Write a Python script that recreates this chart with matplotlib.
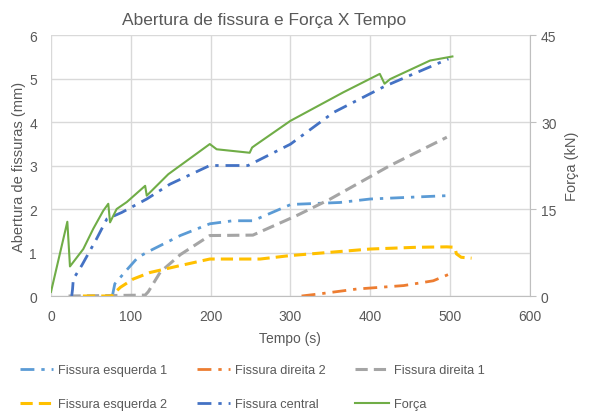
import matplotlib.pyplot as plt
import numpy as np

plt.rcParams['font.family'] = ['Liberation Sans', 'DejaVu Sans']
TXT = '#595959'
GRID = '#D9D9D9'

# Crack openings (mm) vs time (s)
t_esq1 = [77, 78, 80, 95, 109, 124, 162, 199, 228, 253, 300, 308, 362, 400, 500]
v_esq1 = [0, 0.10, 0.28, 0.60, 0.89, 1.04, 1.39, 1.66, 1.73, 1.73, 2.10, 2.11, 2.15, 2.23, 2.31]

t_dir2 = [314, 337, 383, 442, 479, 500]
v_dir2 = [0.0, 0.05, 0.16, 0.24, 0.35, 0.51]

t_dir1 = [22, 118, 122, 137, 162, 199, 253, 308, 350, 425, 496]
v_dir1 = [0, 0.02, 0.10, 0.55, 0.95, 1.39, 1.40, 1.85, 2.23, 3.00, 3.65]

t_esq2 = [40, 76, 80, 87, 103, 124, 162, 199, 262, 300, 400, 458, 496, 506, 508, 514, 527]
v_esq2 = [0, 0, 0.08, 0.20, 0.39, 0.54, 0.70, 0.85, 0.85, 0.93, 1.08, 1.12, 1.13, 1.12, 0.97, 0.89, 0.87]

t_cent = [26, 27, 28, 38.5, 57, 70, 88.6, 120, 149, 199, 247, 300, 354, 418, 498]
v_cent = [0, 0.15, 0.39, 0.70, 1.31, 1.77, 1.92, 2.23, 2.57, 3.00, 3.00, 3.49, 4.22, 4.82, 5.45]

# Applied force (kN) vs time (s)
t_forca = [0, 20.5, 23.8, 40.5, 53, 65.5, 71.8, 74, 82.3, 95, 118, 120, 128, 147,
           199, 207.6, 249, 252, 256, 300, 366, 412, 418, 425, 475, 503]
v_forca = [0.7, 12.8, 5.1, 8.1, 11.6, 14.7, 15.9, 12.7, 15.0, 16.2, 19.0, 17.3, 18.4, 21.0,
           26.2, 25.3, 24.7, 25.6, 26.0, 30.2, 35.1, 38.3, 36.6, 37.4, 40.6, 41.3]

fig = plt.figure(figsize=(5.9, 4.14), dpi=100)
ax = fig.add_axes([0.0864, 0.2826, 0.8116, 0.6304])
ax2 = ax.twinx()

dashdot = (0, (5, 2.5, 1.2, 2.5))
l1, = ax.plot(t_esq1, v_esq1, color='#5B9BD5', lw=2, ls=dashdot, label='Fissura esquerda 1')
l2, = ax.plot(t_dir2, v_dir2, color='#ED7D31', lw=2, ls=dashdot, label='Fissura direita 2')
l3, = ax.plot(t_dir1, v_dir1, color='#A5A5A5', lw=2.2, ls=(0, (4, 2)), label='Fissura direita 1')
l4, = ax.plot(t_esq2, v_esq2, color='#FFC000', lw=2.2, ls=(0, (4, 2)), label='Fissura esquerda 2')
l5, = ax.plot(t_cent, v_cent, color='#4472C4', lw=2, ls=dashdot, label='Fissura central')
l6, = ax2.plot(t_forca, v_forca, color='#70AD47', lw=1.5, label='Força')

ax.set_xlim(0, 600)
ax.set_ylim(0, 6)
ax.set_xticks(np.arange(0, 601, 100))
ax.set_yticks(np.arange(0, 7, 1))
ax2.set_ylim(0, 45)
ax2.set_yticks([0, 15, 30, 45])

ax.grid(True, color=GRID, lw=1)
ax.set_axisbelow(True)
for a in (ax, ax2):
    for s in ('top', 'left', 'right'):
        a.spines[s].set_visible(False)
    a.spines['bottom'].set_color('#BFBFBF')
ax2.spines['bottom'].set_visible(False)
ax2.spines['right'].set_visible(True)
ax2.spines['right'].set_color('#BFBFBF')

ax.tick_params(axis='x', length=0, labelsize=10, colors=TXT, pad=9)
ax.tick_params(axis='y', length=0, labelsize=10, colors=TXT, pad=10)
ax2.tick_params(axis='y', length=4, color='#BFBFBF', labelsize=10, labelcolor=TXT, pad=4)

fig.text(0.447, 0.950, 'Abertura de fissura e Força X Tempo', fontsize=12.5,
         color=TXT, ha='center', va='center')
ax.set_xlabel('Tempo (s)', fontsize=10, color=TXT, labelpad=6)
ax.set_ylabel('Abertura de fissuras (mm)', fontsize=10.5, color=TXT, labelpad=2)
ax2.set_ylabel('Força (kN)', fontsize=10.5, color=TXT, labelpad=6)

# legend fills columns first, so interleave to get the row layout
handles = [l1, l4, l2, l5, l3, l6]
fig.legend(handles, [h.get_label() for h in handles], ncol=3, loc='upper left',
           bbox_to_anchor=(20 / 590, 1 - 365 / 414), frameon=False, fontsize=9.2,
           labelcolor=TXT, handlelength=2.6, columnspacing=2.3, labelspacing=1.75,
           handletextpad=0.4, borderpad=0, borderaxespad=0)

fig.savefig('out.png', dpi=100)
